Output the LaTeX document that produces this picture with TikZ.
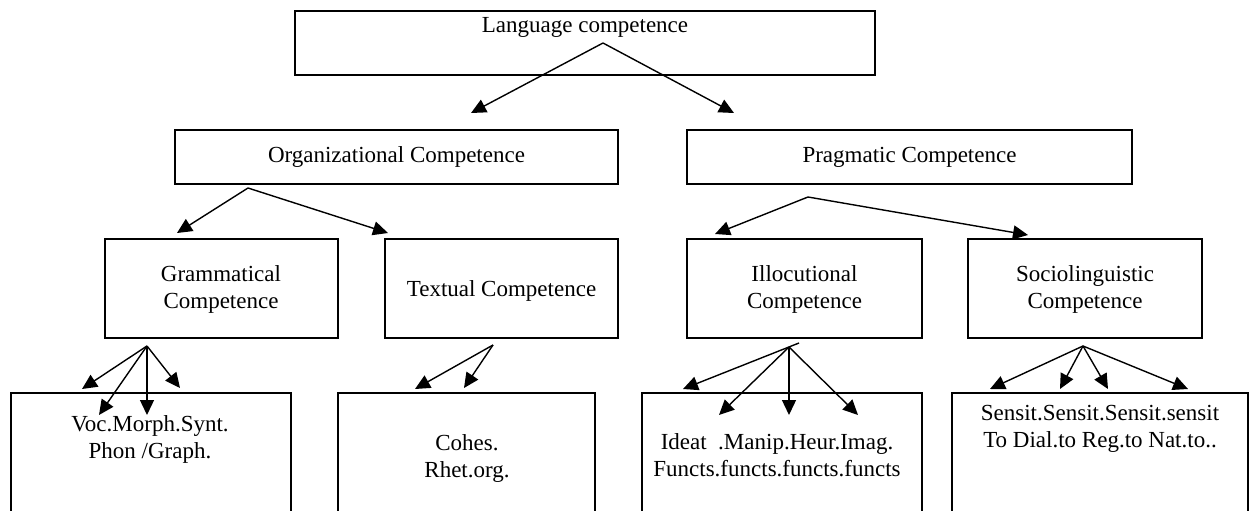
\documentclass[tikz,border=0pt]{standalone}
\usepackage{fontspec}
\setmainfont{Liberation Serif}
\usetikzlibrary{arrows.meta}
\begin{document}
\begin{tikzpicture}[x=1pt,y=-1pt,
  box/.style={draw, line width=2pt, rectangle, inner sep=0pt},
  lbl/.style={font=\fontsize{23}{27}\selectfont, align=center, inner sep=0pt},
  link/.style={line width=1.4pt, -{Triangle[length=15pt,width=14pt]}}]
\useasboundingbox (0,0) rectangle (1255,511);
\clip (0,0) rectangle (1255,511);

% level 0
\node[box, minimum width=580pt, minimum height=64pt] (lang) at (585,43) {};
\node[lbl] (langtxt) at (585,27) {Language competence};

% level 1
\node[box, minimum width=443pt, minimum height=54pt] (org) at (396.5,157) {};
\node[lbl] (orgtxt) at (org.center) {Organizational Competence};
\node[box, minimum width=445pt, minimum height=54pt] (prag) at (909.5,157) {};
\node[lbl] (pragtxt) at (prag.center) {Pragmatic Competence};

% level 2
\node[box, minimum width=233pt, minimum height=99pt] (gram) at (221.5,288.5) {};
\node[lbl] (gramtxt) at (221,289.5) {Grammatical\\Competence};
\node[box, minimum width=233pt, minimum height=99pt] (text) at (501.5,288.5) {};
\node[lbl] (texttxt) at (501.5,291) {Textual Competence};
\node[box, minimum width=235pt, minimum height=99pt] (illoc) at (804.5,288.5) {};
\node[lbl] (illoctxt) at (804.5,289.5) {Illocutional\\Competence};
\node[box, minimum width=234pt, minimum height=99pt] (socio) at (1085,288.5) {};
\node[lbl] (sociotxt) at (1085,289.5) {Sociolinguistic\\Competence};

% level 3 (boxes run past the lower edge)
\node[box, minimum width=280pt, minimum height=157pt] (b1) at (151,471.5) {};
\node[lbl] (b1txt) at (150,439.5) {Voc.Morph.Synt.\\Phon /Graph.};
\node[box, minimum width=257pt, minimum height=157pt] (b2) at (466.5,471.5) {};
\node[lbl] (b2txt) at (467,458.5) {Cohes.\\Rhet.org.};
\node[box, minimum width=280pt, minimum height=157pt] (b3) at (782,471.5) {};
\node[lbl] (b3txt) at (777,455.5) {Ideat~~.Manip.Heur.Imag.\\Functs.functs.functs.functs};
\node[box, minimum width=296pt, minimum height=157pt] (b4) at (1100,471.5) {};
\node[lbl] (b4txt) at (1100,428.5) {Sensit.Sensit.Sensit.sensit\\To Dial.to Reg.to Nat.to..};

% branching points and arrow ends
\coordinate (a0) at (603,43);
\coordinate (t01) at (471,113);
\coordinate (t02) at (734,113);

\coordinate (a1) at (248,188);
\coordinate (t11) at (177,233);
\coordinate (t12) at (388,233);

\coordinate (a2) at (808,197);
\coordinate (t21) at (715,234);
\coordinate (t22) at (1028,235);

\coordinate (a3) at (147,346);
\coordinate (t31) at (82,389);
\coordinate (t32) at (99,415);
\coordinate (t33) at (147,415);
\coordinate (t34) at (180,388);

\coordinate (a4) at (493,345);
\coordinate (t41) at (415,389);
\coordinate (t42) at (464,388);

\coordinate (a5) at (789,347);
\coordinate (s5) at (799,343);
\coordinate (t51) at (683,389);
\coordinate (t52) at (719,415);
\coordinate (t53) at (789,415);
\coordinate (t54) at (858,415);

\coordinate (a6) at (1083,346);
\coordinate (t61) at (990,389);
\coordinate (t62) at (1060,389);
\coordinate (t63) at (1108,389);
\coordinate (t64) at (1188,389);

% connectors
\draw[link] (a0) -- (t01);
\draw[link] (a0) -- (t02);
\draw[link] (a1) -- (t11);
\draw[link] (a1) -- (t12);
\draw[link] (a2) -- (t21);
\draw[link] (a2) -- (t22);
\foreach \t in {t31,t32,t33,t34} \draw[link] (a3) -- (\t);
\foreach \t in {t41,t42} \draw[link] (a4) -- (\t);
\draw[link] (s5) -- (t51);
\foreach \t in {t52,t53,t54} \draw[link] (a5) -- (\t);
\foreach \t in {t61,t62,t63,t64} \draw[link] (a6) -- (\t);
\end{tikzpicture}
\end{document}
